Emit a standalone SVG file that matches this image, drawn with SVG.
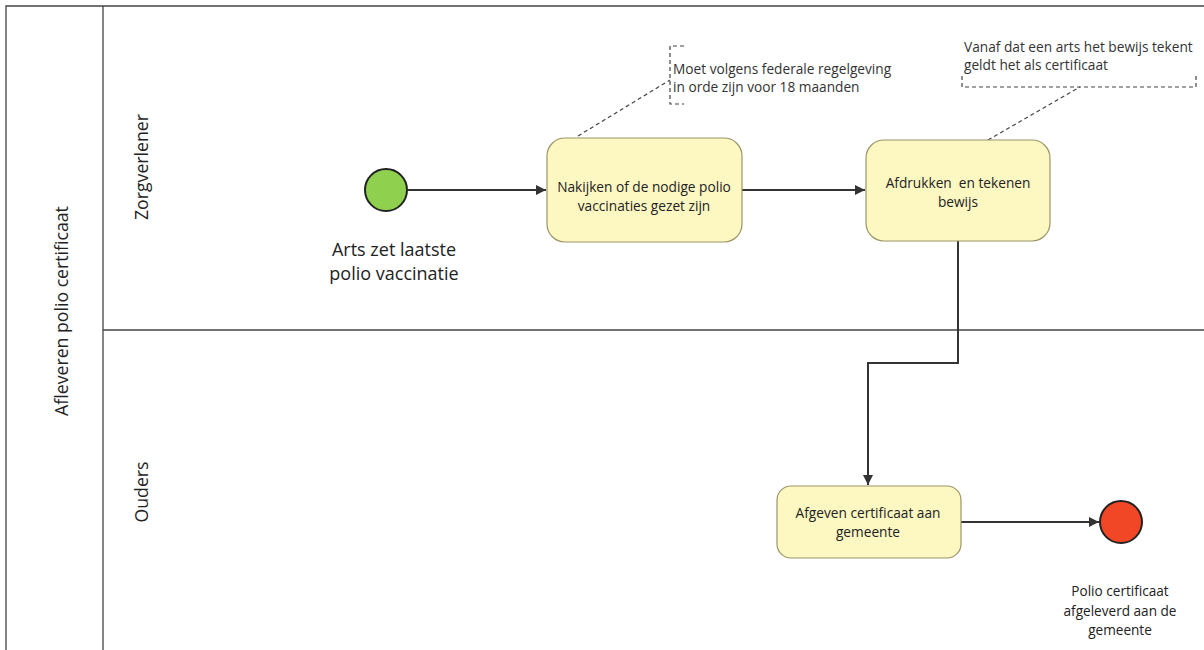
<svg xmlns="http://www.w3.org/2000/svg" width="1204" height="650" viewBox="0 0 1204 650">
  <defs>
    <marker id="arrow" viewBox="0 0 10 10" refX="10" refY="5" markerWidth="10" markerHeight="10" markerUnits="userSpaceOnUse" orient="auto">
      <path d="M0,0 L10,5 L0,10 z" fill="#333"/>
    </marker>
    <style>
      text { font-family: "Open Sans", "Noto Sans", "Liberation Sans", sans-serif; fill: #222; }
      .lane { stroke: #444; stroke-width: 1.3; fill: none; }
      .lanetitle { font-size: 17.7px; text-anchor: middle; }
      .task rect { fill: #fdf7c2; stroke: #9c9566; stroke-width: 1.2; }
      .task text { font-size: 13.7px; text-anchor: middle; }
      .flow { stroke: #333; stroke-width: 2; fill: none; marker-end: url(#arrow); }
      .assoc { stroke: #444; stroke-width: 1.2; stroke-dasharray: 4 3; fill: none; }
      .note text { font-size: 13.7px; fill: #333; }
      .evlabel { text-anchor: middle; }
    </style>
  </defs>

  <!-- pool and lanes -->
  <g id="pool">
    <path class="lane" d="M6,650 V6 H1204"/>
    <line class="lane" x1="103" y1="6" x2="103" y2="650"/>
    <line class="lane" x1="103" y1="330" x2="1204" y2="330"/>
    <text class="lanetitle" transform="translate(68,311) rotate(-90)">Afleveren polio certificaat</text>
    <text class="lanetitle" transform="translate(148,167) rotate(-90)">Zorgverlener</text>
    <text class="lanetitle" transform="translate(148,492) rotate(-90)">Ouders</text>
  </g>

  <!-- connectors -->
  <g id="connectors">
    <line class="flow" x1="408" y1="190" x2="546" y2="190"/>
    <line class="flow" x1="742" y1="190" x2="865" y2="190"/>
    <path class="flow" d="M958,241 V363 H868 V485"/>
    <line class="flow" x1="961" y1="522" x2="1099" y2="522"/>
    <line class="assoc" x1="578" y1="136" x2="670" y2="80"/>
    <line class="assoc" x1="988" y1="140" x2="1080" y2="87"/>
  </g>

  <!-- start event -->
  <g id="start">
    <circle cx="386" cy="190" r="21" fill="#8fd14f" stroke="#222" stroke-width="2"/>
    <text class="evlabel" x="394" y="256" font-size="18">Arts zet laatste</text>
    <text class="evlabel" x="394" y="280" font-size="18">polio vaccinatie</text>
  </g>

  <!-- tasks -->
  <g id="task-nakijken" class="task">
    <rect x="547" y="138" width="195" height="104" rx="18"/>
    <text x="644" y="192">Nakijken of de nodige polio</text>
    <text x="644" y="211">vaccinaties gezet zijn</text>
  </g>

  <g id="task-afdrukken" class="task">
    <rect x="866" y="140" width="184" height="101" rx="18"/>
    <text x="958" y="188" xml:space="preserve">Afdrukken  en tekenen</text>
    <text x="958" y="207">bewijs</text>
  </g>

  <g id="task-afgeven" class="task">
    <rect x="777" y="486" width="184" height="72" rx="14"/>
    <text x="868" y="518">Afgeven certificaat aan</text>
    <text x="868" y="537">gemeente</text>
  </g>

  <!-- end event -->
  <g id="end">
    <circle cx="1121" cy="522" r="21" fill="#f24726" stroke="#222" stroke-width="2"/>
    <text class="evlabel" x="1120" y="596" font-size="13.6">Polio certificaat</text>
    <text class="evlabel" x="1120" y="616" font-size="13.6">afgeleverd aan de</text>
    <text class="evlabel" x="1120" y="635" font-size="13.6">gemeente</text>
  </g>

  <!-- annotations -->
  <g id="note-regelgeving" class="note">
    <path class="assoc" d="M684,46 H670 V104 H684"/>
    <text x="673" y="74">Moet volgens federale regelgeving</text>
    <text x="673" y="92">in orde zijn voor 18 maanden</text>
  </g>

  <g id="note-certificaat" class="note">
    <path class="assoc" d="M962,76 V87 H1196 V76"/>
    <text x="964" y="52">Vanaf dat een arts het bewijs tekent</text>
    <text x="964" y="70">geldt het als certificaat</text>
  </g>
</svg>
